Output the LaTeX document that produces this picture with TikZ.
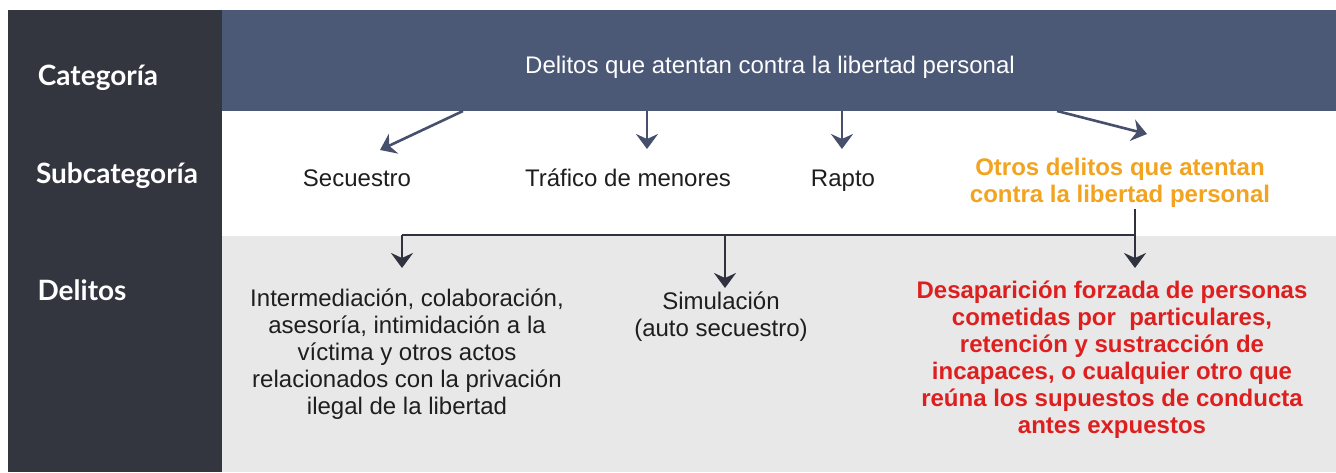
\documentclass[tikz,border=0pt]{standalone}
\usepackage{fontspec}
\setmainfont{Liberation Sans}
\newfontfamily\labfont{Lato}
\usetikzlibrary{arrows.meta}
\definecolor{darkcol}{HTML}{33353F}
\definecolor{topband}{HTML}{4B5876}
\definecolor{grayband}{HTML}{E8E8E8}
\definecolor{arrtop}{HTML}{46506D}
\definecolor{arrbot}{HTML}{30333F}
\definecolor{orangetx}{HTML}{F2A31F}
\definecolor{redtx}{HTML}{DD1F1F}
\definecolor{txt}{HTML}{1E1E1E}
\tikzset{
  rowlab/.style={text=white, font=\labfont\bfseries\fontsize{28}{32}\selectfont, inner sep=0pt},
  subtx/.style={text=txt, font=\fontsize{24}{27}\selectfont, inner sep=0pt, anchor=base},
  deltx/.style={text=txt, font=\fontsize{24}{27}\selectfont, align=center, inner sep=0pt},
  arrT/.style={draw=arrtop, line width=2.6pt, -{Stealth[length=15pt,width=22pt,inset=5pt]}},
  arrB/.style={draw=arrbot, line width=2.6pt, -{Stealth[length=15pt,width=22pt,inset=5pt]}},
  lineB/.style={draw=arrbot, line width=2.6pt}
}
\begin{document}
\begin{tikzpicture}[x=1pt,y=-1pt]
\useasboundingbox (0,0) rectangle (1336,472);
\fill[white] (0,0) rectangle (1336,472);
% bands
\fill[darkcol] (8,10) rectangle (222,472);
\fill[topband] (222,10) rectangle (1336,111);
\fill[grayband] (222,236) rectangle (1336,472);
% row labels
\node[rowlab] (lcat) at (98,78) {Categoría};
\node[rowlab] (lsub) at (117,176) {Subcategoría};
\node[rowlab] (ldel) at (82,290) {Delitos};
% category
\node[text=white, font=\fontsize{24}{27}\selectfont, inner sep=0pt] (cat) at (770,67) {Delitos que atentan contra la libertad personal};
% subcategories
\node[subtx] (sec) at (357,186) {Secuestro};
\node[subtx] (tra) at (628,186) {Tráfico de menores};
\node[subtx] (rap) at (843,186) {Rapto};
\node[text=orangetx, font=\bfseries\fontsize{24}{27}\selectfont, align=center, inner sep=0pt] (otr) at (1120,183) {Otros delitos que atentan\\contra la libertad personal};
% delitos
\node[deltx, anchor=north] (d1) at (407,289) {Intermediación, colaboración,\\asesoría, intimidación a la\\víctima y otros actos\\relacionados con la privación\\ilegal de la libertad};
\node[deltx, anchor=north] (d2) at (721,292) {Simulación\\(auto secuestro)};
\node[text=redtx, font=\bfseries\fontsize{24}{27}\selectfont, align=center, inner sep=0pt, anchor=north] (d3) at (1112,281) {Desaparición forzada de personas\\cometidas por\ \ particulares,\\retención y sustracción de\\incapaces, o cualquier otro que\\reúna los supuestos de conducta\\antes expuestos};
% top arrows
\coordinate (s1) at (463,111);
\coordinate (t1) at (380,150);
\coordinate (s2) at (647,111);
\coordinate (t2) at (647,149);
\coordinate (s3) at (842,111);
\coordinate (t3) at (842,149);
\coordinate (s4) at (1057,111);
\coordinate (t4) at (1147,134);
\draw[arrT] (s1) -- (t1);
\draw[arrT] (s2) -- (t2);
\draw[arrT] (s3) -- (t3);
\draw[arrT] (s4) -- (t4);
% bottom connectors
\coordinate (ob) at (1135,209);
\coordinate (jr) at (1135,235);
\coordinate (jl) at (402,235);
\coordinate (jm) at (725,235);
\coordinate (b1) at (402,268);
\coordinate (b2) at (725,288);
\coordinate (b3) at (1135,268);
\draw[lineB] (jl) -- (jr);
\draw[arrB] (ob) -- (b3);
\draw[arrB] (jl) -- (b1);
\draw[arrB] (jm) -- (b2);
\end{tikzpicture}
\end{document}
